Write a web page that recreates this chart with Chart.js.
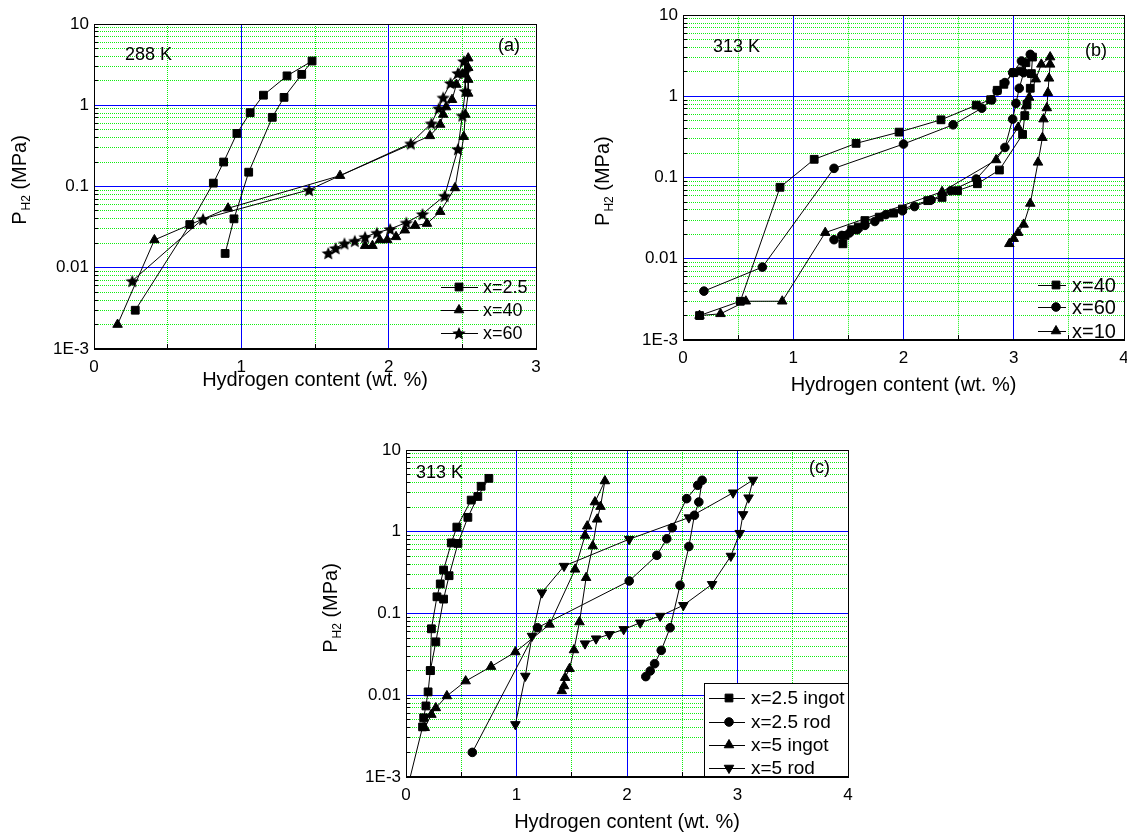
<!DOCTYPE html>
<html>
<head>
<meta charset="utf-8">
<script src="https://cdn.jsdelivr.net/npm/chart.js@4.4.1/dist/chart.umd.min.js"></script>
<style>
html, body { margin: 0; padding: 0; background: #fff; overflow: hidden; width: 1127px; height: 836px; }
canvas { position: absolute; }
</style>
</head>
<body>
<canvas id="chartA" width="565" height="410" style="left:0px;top:0px"></canvas>
<canvas id="chartB" width="560" height="410" style="left:590px;top:0px"></canvas>
<canvas id="chartC" width="580" height="416" style="left:300px;top:420px"></canvas>
<script>
const FONT = '"Liberation Sans", Arial, sans-serif';
const BLUE = '#0000ff';
const GREEN = '#11ee11';

// decade labels of the pressure axis
const decadeLabels = { '-3': '1E-3', '-2': '0.01', '-1': '0.1', '0': '1', '1': '10' };

// (a) 288 K
const a25H = [0.28, 0.65, 0.81, 0.88, 0.97, 1.06, 1.15, 1.31, 1.48, 1.41, 1.29, 1.21, 1.05, 0.95, 0.89];
const a25P = [0.003, 0.034, 0.11, 0.20, 0.45, 0.81, 1.33, 2.3, 3.5, 2.4, 1.25, 0.71, 0.15, 0.040, 0.015];
const a40H = [0.16, 0.41, 0.91, 1.67, 2.28, 2.35, 2.37, 2.39, 2.43, 2.46, 2.50, 2.54, 2.54, 2.54, 2.54, 2.52, 2.51, 2.45, 2.35, 2.26, 2.18, 2.11, 2.05, 1.99, 1.94, 1.89, 1.84];
const a40P = [0.002, 0.022, 0.054, 0.136, 0.42, 0.58, 0.77, 0.95, 1.17, 1.8, 2.4, 3.8, 2.9, 2.07, 1.4, 0.77, 0.41, 0.096, 0.049, 0.035, 0.033, 0.029, 0.024, 0.022, 0.022, 0.0187, 0.0187];
const a60H = [0.26, 0.74, 1.46, 2.15, 2.29, 2.34, 2.37, 2.42, 2.47, 2.51, 2.52, 2.52, 2.50, 2.47, 2.38, 2.23, 2.12, 2.01, 1.92, 1.84, 1.77, 1.70, 1.64, 1.59];
const a60P = [0.0069, 0.040, 0.091, 0.34, 0.60, 0.92, 1.25, 1.88, 2.5, 3.5, 2.6, 1.5, 0.75, 0.29, 0.077, 0.046, 0.036, 0.030, 0.027, 0.024, 0.0215, 0.020, 0.0175, 0.0152];

// (b) 313 K
const b40H = [0.15, 0.52, 0.88, 1.19, 1.57, 1.96, 2.34, 2.66, 2.79, 2.85, 2.91, 3.00, 3.07, 3.11, 3.17, 3.16, 3.15, 3.12, 3.10, 3.08, 2.87, 2.67, 2.49, 2.35, 2.22, 1.99, 1.91, 1.78, 1.65, 1.59, 1.53, 1.47, 1.45];
const b40P = [0.002, 0.003, 0.076, 0.168, 0.264, 0.363, 0.515, 0.78, 0.91, 1.19, 1.41, 1.96, 2.05, 2.6, 3.05, 1.91, 1.26, 0.80, 0.58, 0.34, 0.124, 0.084, 0.069, 0.057, 0.052, 0.041, 0.0365, 0.0326, 0.0296, 0.0246, 0.0228, 0.0194, 0.0153];
const b60H = [0.19, 0.72, 1.37, 2.00, 2.45, 2.71, 2.80, 2.85, 2.92, 2.99, 3.07, 3.15, 3.09, 3.05, 3.02, 2.99, 2.92, 2.66, 2.43, 2.25, 2.10, 1.99, 1.84, 1.74, 1.65, 1.58, 1.51, 1.44, 1.37];
const b60P = [0.004, 0.0079, 0.13, 0.259, 0.447, 0.716, 0.906, 1.17, 1.48, 1.96, 2.73, 3.29, 1.96, 1.26, 0.82, 0.525, 0.235, 0.096, 0.069, 0.053, 0.044, 0.039, 0.035, 0.0288, 0.0258, 0.0228, 0.0208, 0.0194, 0.0172];
const b10H = [0.15, 0.34, 0.57, 0.90, 1.29, 2.35, 2.84, 3.04, 3.11, 3.14, 3.20, 3.25, 3.33, 3.33, 3.32, 3.31, 3.30, 3.27, 3.26, 3.22, 3.15, 3.09, 3.04, 3.00, 2.96];
const b10P = [0.002, 0.0021, 0.003, 0.003, 0.021, 0.067, 0.165, 0.415, 0.76, 0.97, 1.63, 2.48, 3.05, 2.48, 1.67, 1.11, 0.72, 0.525, 0.31, 0.154, 0.048, 0.0265, 0.021, 0.0177, 0.0153];

// (c) 313 K
const c25IngotH = [0.01, 0.15, 0.16, 0.18, 0.20, 0.22, 0.23, 0.28, 0.31, 0.34, 0.41, 0.46, 0.59, 0.68, 0.75, 0.65, 0.56, 0.47, 0.39, 0.34, 0.27, 0.22];
const c25IngotP = [0.0007, 0.0041, 0.0053, 0.0074, 0.011, 0.020, 0.065, 0.16, 0.23, 0.34, 0.73, 1.14, 2.44, 3.6, 4.5, 2.7, 1.5, 0.72, 0.29, 0.15, 0.045, 0.020];
const c25RodH = [0.60, 1.19, 2.02, 2.27, 2.36, 2.41, 2.54, 2.64, 2.68, 2.65, 2.61, 2.56, 2.48, 2.39, 2.31, 2.25, 2.21, 2.17];
const c25RodP = [0.002, 0.067, 0.25, 0.515, 0.82, 1.12, 2.54, 3.7, 4.26, 2.31, 1.59, 0.66, 0.221, 0.067, 0.0354, 0.0243, 0.0198, 0.0169];
const c5IngotH = [0.17, 0.23, 0.27, 0.37, 0.54, 0.77, 0.99, 1.30, 1.53, 1.62, 1.64, 1.71, 1.80, 1.76, 1.73, 1.69, 1.63, 1.57, 1.52, 1.48, 1.44, 1.43, 1.41];
const c5IngotP = [0.004, 0.0058, 0.007, 0.0098, 0.0149, 0.0224, 0.0338, 0.0736, 0.347, 0.90, 1.17, 2.31, 4.18, 2.03, 1.42, 0.67, 0.274, 0.0787, 0.0358, 0.0211, 0.0164, 0.013, 0.0113];
const c5RodH = [0.99, 1.08, 1.14, 1.23, 1.43, 2.02, 2.56, 2.96, 3.14, 3.10, 3.05, 3.02, 2.94, 2.77, 2.51, 2.30, 2.12, 1.97, 1.84, 1.72, 1.62];
const c5RodP = [0.0044, 0.0172, 0.053, 0.18, 0.38, 0.81, 1.49, 3.0, 4.3, 2.61, 1.63, 0.96, 0.505, 0.228, 0.126, 0.093, 0.077, 0.064, 0.0556, 0.0492, 0.0428];

function pts(h, p) {
  return h.map((v, i) => ({ x: v, y: p[i] }));
}

// filled five-pointed star used as a point image
function makeStar(r) {
  const c = document.createElement('canvas');
  const s = Math.ceil(r * 2) + 2;
  c.width = s; c.height = s;
  const g = c.getContext('2d');
  g.beginPath();
  for (let i = 0; i < 10; i++) {
    const rad = i % 2 ? r * 0.45 : r;
    const ang = -Math.PI / 2 + i * Math.PI / 5;
    const px = s / 2 + rad * Math.cos(ang);
    const py = s / 2 + 0.9 + rad * Math.sin(ang);
    if (i === 0) g.moveTo(px, py); else g.lineTo(px, py);
  }
  g.closePath();
  g.fillStyle = '#000';
  g.fill();
  return c;
}
const starImg = makeStar(7);

const MARKS = {
  square: { pointStyle: 'rect', pointRadius: 5.5, pointRotation: 0 },
  circle: { pointStyle: 'circle', pointRadius: 4.3, pointRotation: 0 },
  up: { pointStyle: 'triangle', pointRadius: 5.5, pointRotation: 0 },
  down: { pointStyle: 'triangle', pointRadius: 5.5, pointRotation: 180 },
  star: { pointStyle: starImg, pointRadius: 6, pointRotation: 0 }
};

function series(label, h, p, mark) {
  return Object.assign({
    label,
    data: pts(h, p),
    xAxisID: 'x',
    yAxisID: 'y',
    showLine: true,
    borderColor: '#000',
    borderWidth: 1,
    backgroundColor: '#000',
    pointBackgroundColor: '#000',
    pointBorderColor: '#000',
    pointBorderWidth: 1,
    tension: 0
  }, MARKS[mark]);
}

function significand(v) {
  const e = Math.floor(Math.log10(v) + 1e-9);
  return v / Math.pow(10, e);
}
function isDecade(v) {
  return Math.abs(significand(v) - 1) < 1e-6;
}
function isWholeSignificand(v) {
  const m = significand(v);
  return Math.abs(m - Math.round(m)) < 1e-6;
}

const tickFont = { family: FONT, size: 17 };

// major axes (labels, blue solid grid) plus minor companions (green dotted grid, short inner ticks)
function buildScales(xMax, xHeight, yWidth) {
  return {
    x: {
      type: 'linear', min: 0, max: xMax,
      ticks: { stepSize: 1, autoSkip: false, maxRotation: 0, padding: 8, color: '#000', font: tickFont },
      grid: { drawTicks: false, color: BLUE, lineWidth: 1, z: -1 },
      border: { color: '#000', width: 1 },
      afterFit: s => { s.height = xHeight; }
    },
    y: {
      type: 'logarithmic', min: 0.001, max: 10,
      afterBuildTicks: s => { s.ticks = s.ticks.filter(t => isDecade(t.value)); },
      ticks: {
        autoSkip: false, padding: 5, color: '#000', font: tickFont,
        callback: v => decadeLabels[String(Math.round(Math.log10(v)))]
      },
      grid: { drawTicks: false, color: BLUE, lineWidth: 1, z: -1 },
      border: { color: '#000', width: 1 },
      afterFit: s => { s.width = yWidth; }
    },
    x2: {
      type: 'linear', position: 'bottom', weight: -1, min: 0, max: xMax,
      afterBuildTicks: s => { s.ticks = s.ticks.filter(t => !Number.isInteger(t.value)); },
      ticks: { display: false, stepSize: 0.5 },
      grid: { drawTicks: true, tickLength: -5, tickColor: '#000', tickWidth: 1, color: GREEN, lineWidth: 1, z: -2 },
      border: { display: false, dash: [1, 1] },
      afterFit: s => { s.height = 0; }
    },
    y2: {
      type: 'logarithmic', position: 'left', weight: -1, min: 0.001, max: 10,
      afterBuildTicks: s => { s.ticks = s.ticks.filter(t => isWholeSignificand(t.value) && !isDecade(t.value)); },
      ticks: { display: false },
      grid: { drawTicks: true, tickLength: -4, tickColor: '#000', tickWidth: 1, color: GREEN, lineWidth: 1, z: -2 },
      border: { display: false, dash: [1, 1] },
      afterFit: s => { s.width = 0; }
    }
  };
}

function drawMarker(ctx, ds, x, y) {
  if (Chart.helpers && Chart.helpers.drawPoint) {
    Chart.helpers.drawPoint(ctx, {
      pointStyle: ds.pointStyle,
      rotation: ds.pointRotation || 0,
      radius: ds.pointRadius,
      borderWidth: 1
    }, x, y);
  }
}

// frame, labels, inset legend and axis titles
const overlay = {
  id: 'overlay',
  afterDraw(chart, args, o) {
    const { ctx, chartArea: a } = chart;
    ctx.save();
    ctx.fillStyle = '#000';
    ctx.strokeStyle = '#000';
    ctx.lineWidth = 1;

    const lg = o.legend;
    if (lg.box) {
      const bx = Math.round(a.right - lg.box.dx) + 0.5;
      const by = Math.round(a.bottom - lg.box.dy) + 0.5;
      ctx.fillStyle = '#fff';
      ctx.fillRect(bx, by, a.right - bx, a.bottom - by);
      ctx.fillStyle = '#000';
      ctx.strokeRect(bx, by, Math.round(a.right) - bx + 0.5, Math.round(a.bottom) - by);
    }

    ctx.strokeRect(Math.round(a.left) + 0.5, Math.round(a.top) + 0.5,
      Math.round(a.right - a.left), Math.round(a.bottom - a.top) - 1);

    ctx.textBaseline = 'middle';
    ctx.font = lg.size + 'px ' + FONT;
    chart.data.datasets.forEach((ds, i) => {
      const y = a.bottom - lg.rows[i];
      ctx.beginPath();
      ctx.moveTo(a.right - lg.line[0], Math.round(y) + 0.5);
      ctx.lineTo(a.right - lg.line[1], Math.round(y) + 0.5);
      ctx.stroke();
      drawMarker(ctx, ds, a.right - lg.mark, y);
      ctx.textAlign = 'left';
      ctx.fillText(ds.label, a.right - lg.text, y + 1);
    });

    ctx.font = '18px ' + FONT;
    o.texts.forEach(t => {
      ctx.textAlign = t.align;
      const x = t.align === 'left' ? a.left + t.dx : a.right - t.dx;
      ctx.fillText(t.t, x, a.top + t.dy);
    });

    ctx.font = '20px ' + FONT;
    ctx.textAlign = 'center';
    ctx.fillText('Hydrogen content (wt. %)', (a.left + a.right) / 2, a.bottom + o.xTitleDy);

    ctx.translate(o.yTitleX, (a.top + a.bottom) / 2 + o.yTitleDy);
    ctx.rotate(-Math.PI / 2);
    ctx.font = '20px ' + FONT;
    const wP = ctx.measureText('P').width;
    const wRest = ctx.measureText(' (MPa)').width;
    ctx.font = '12px ' + FONT;
    const wSub = ctx.measureText('H2').width;
    const x0 = -(wP + wSub + wRest) / 2;
    ctx.textAlign = 'left';
    ctx.font = '20px ' + FONT;
    ctx.fillText('P', x0, 0);
    ctx.font = '12px ' + FONT;
    ctx.fillText('H2', x0 + wP + 1, 7);
    ctx.font = '20px ' + FONT;
    ctx.fillText(' (MPa)', x0 + wP + wSub + 1, 0);
    ctx.restore();
  }
};

function makeChart(id, datasets, xMax, dims, extra) {
  return new Chart(document.getElementById(id), {
    type: 'scatter',
    data: { datasets },
    options: {
      responsive: false,
      animation: false,
      layout: { padding: { left: 0, top: dims.top, right: dims.right, bottom: 0 } },
      scales: buildScales(xMax, dims.xh, dims.yw),
      plugins: {
        legend: { display: false },
        tooltip: { enabled: false },
        overlay: extra
      }
    },
    plugins: [overlay]
  });
}

makeChart('chartA', [
  series('x=2.5', a25H, a25P, 'square'),
  series('x=40', a40H, a40P, 'up'),
  series('x=60', a60H, a60P, 'star')
], 3, { top: 24, right: 29, xh: 61, yw: 94 }, {
  texts: [
    { t: '288 K', dx: 31, dy: 31, align: 'left' },
    { t: '(a)', dx: 16, dy: 22, align: 'right' }
  ],
  legend: { size: 18, rows: [62, 39, 16], line: [95, 58], mark: 77, text: 53 },
  xTitleDy: 31, yTitleX: 20, yTitleDy: -6
});

makeChart('chartB', [
  series('x=40', b40H, b40P, 'square'),
  series('x=60', b60H, b60P, 'circle'),
  series('x=10', b10H, b10P, 'up')
], 4, { top: 14, right: 26, xh: 70, yw: 93 }, {
  texts: [
    { t: '313 K', dx: 30, dy: 32, align: 'left' },
    { t: '(b)', dx: 17, dy: 36, align: 'right' }
  ],
  legend: { size: 20, rows: [55, 33, 9], line: [86, 58], mark: 68, text: 52 },
  xTitleDy: 45, yTitleX: 13, yTitleDy: 4
});

makeChart('chartC', [
  series('x=2.5 ingot', c25IngotH, c25IngotP, 'square'),
  series('x=2.5 rod', c25RodH, c25RodP, 'circle'),
  series('x=5 ingot', c5IngotH, c5IngotP, 'up'),
  series('x=5 rod', c5RodH, c5RodP, 'down')
], 4, { top: 30, right: 32, xh: 59, yw: 106 }, {
  texts: [
    { t: '313 K', dx: 10, dy: 23, align: 'left' },
    { t: '(c)', dx: 18, dy: 18, align: 'right' }
  ],
  legend: { size: 19, box: { dx: 144, dy: 94 }, rows: [79, 55, 32, 9], line: [139, 103], mark: 119, text: 97 },
  xTitleDy: 45, yTitleX: 31, yTitleDy: -5
});
</script>
</body>
</html>
